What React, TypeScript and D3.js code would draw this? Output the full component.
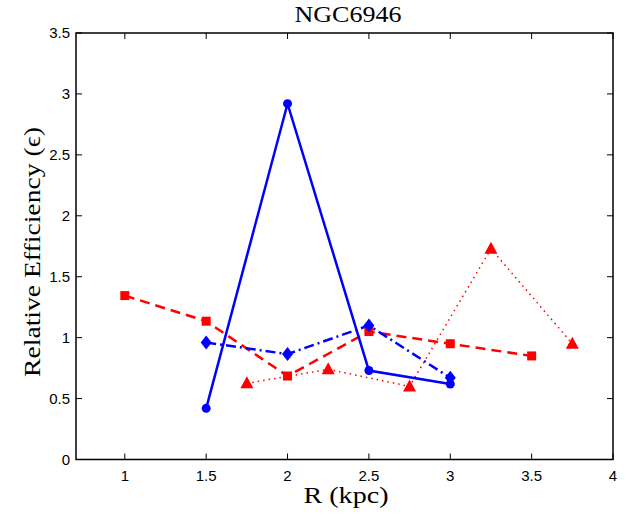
import React from "react";
import * as d3 from "d3";

const solidX = [1.5, 2, 2.5, 3];
const solidY = [0.42, 2.92, 0.73, 0.62];
const dashDotX = [1.5, 2, 2.5, 3];
const dashDotY = [0.96, 0.865, 1.1, 0.67];
const dashedX = [1, 1.5, 2, 2.5, 3, 3.5];
const dashedY = [1.345, 1.135, 0.685, 1.05, 0.95, 0.85];
const dottedX = [1.75, 2.25, 2.75, 3.25, 3.75];
const dottedY = [0.625, 0.74, 0.6, 1.73, 0.95];
const xTicks = [1, 1.5, 2, 2.5, 3, 3.5, 4];
const yTicks = [0, 0.5, 1, 1.5, 2, 2.5, 3, 3.5];

const W = 632, H = 515;
const L = 76, R = 613, T = 33, B = 459.5;

export default function App() {
  const x = d3.scaleLinear().domain([0.7, 4]).range([L, R]);
  const y = d3.scaleLinear().domain([0, 3.5]).range([B, T]);
  const line = d3.line<[number, number]>().x(d => x(d[0])).y(d => y(d[1]));
  const pts = (xs: number[], ys: number[]) => xs.map((v, i) => [v, ys[i]] as [number, number]);
  const sans = "'Liberation Sans', Arial, sans-serif";
  const serif = "'Liberation Serif', 'DejaVu Serif', serif";
  const tl = 6;
  return (
    <svg width={W} height={H} style={{ position: "absolute", left: 0, top: 0, background: "#fff" }}>
      <rect x={0} y={0} width={W} height={H} fill="#fff" />
      <path d={line(pts(dottedX, dottedY))!} fill="none" stroke="#ff0000" strokeWidth={1.5} strokeDasharray="1.5,4" />
      <path d={line(pts(dashedX, dashedY))!} fill="none" stroke="#ff0000" strokeWidth={2.5} strokeDasharray="10,6" />
      <path d={line(pts(dashDotX, dashDotY))!} fill="none" stroke="#0000ff" strokeWidth={2.5} strokeDasharray="10,4,2,4" />
      <path d={line(pts(solidX, solidY))!} fill="none" stroke="#0000ff" strokeWidth={2.5} />
      {pts(dottedX, dottedY).map((d, i) => {
        const cx = x(d[0]), cy = y(d[1]);
        return <path key={"t" + i} d={`M${cx},${cy - 7}L${cx + 6.5},${cy + 5}L${cx - 6.5},${cy + 5}Z`} fill="#ff0000" />;
      })}
      {pts(dashedX, dashedY).map((d, i) => (
        <rect key={"s" + i} x={x(d[0]) - 4.5} y={y(d[1]) - 4.5} width={9} height={9} fill="#ff0000" />
      ))}
      {pts(dashDotX, dashDotY).map((d, i) => {
        const cx = x(d[0]), cy = y(d[1]);
        return <path key={"d" + i} d={`M${cx},${cy - 7}L${cx + 5.5},${cy}L${cx},${cy + 7}L${cx - 5.5},${cy}Z`} fill="#0000ff" />;
      })}
      {pts(solidX, solidY).map((d, i) => (
        <circle key={"c" + i} cx={x(d[0])} cy={y(d[1])} r={4.5} fill="#0000ff" />
      ))}
      <rect x={L} y={T} width={R - L} height={B - T} fill="none" stroke="#000" strokeWidth={1.5} />
      {xTicks.map(t => (
        <g key={"xt" + t}>
          <line x1={x(t)} x2={x(t)} y1={B} y2={B - tl} stroke="#000" strokeWidth={1} />
          <line x1={x(t)} x2={x(t)} y1={T} y2={T + tl} stroke="#000" strokeWidth={1} />
          <text x={x(t)} y={B + 21} textAnchor="middle" fontFamily={sans} fontSize={15}>{t}</text>
        </g>
      ))}
      {yTicks.map(t => (
        <g key={"yt" + t}>
          <line x1={L} x2={L + tl} y1={y(t)} y2={y(t)} stroke="#000" strokeWidth={1} />
          <line x1={R} x2={R - tl} y1={y(t)} y2={y(t)} stroke="#000" strokeWidth={1} />
          <text x={L - 6} y={y(t) + 5} textAnchor="end" fontFamily={sans} fontSize={15}>{t}</text>
        </g>
      ))}
      <text x={348} y={22} textAnchor="middle" fontFamily={serif} fontSize={24} textLength={107} lengthAdjust="spacingAndGlyphs">NGC6946</text>
      <text x={346} y={503} textAnchor="middle" fontFamily={serif} fontSize={24} textLength={85} lengthAdjust="spacingAndGlyphs">R (kpc)</text>
      <text transform={`translate(40,252) rotate(-90)`} textAnchor="middle" fontFamily={serif} fontSize={24} textLength={250} lengthAdjust="spacingAndGlyphs">Relative Efficiency (ϵ)</text>
    </svg>
  );
}
